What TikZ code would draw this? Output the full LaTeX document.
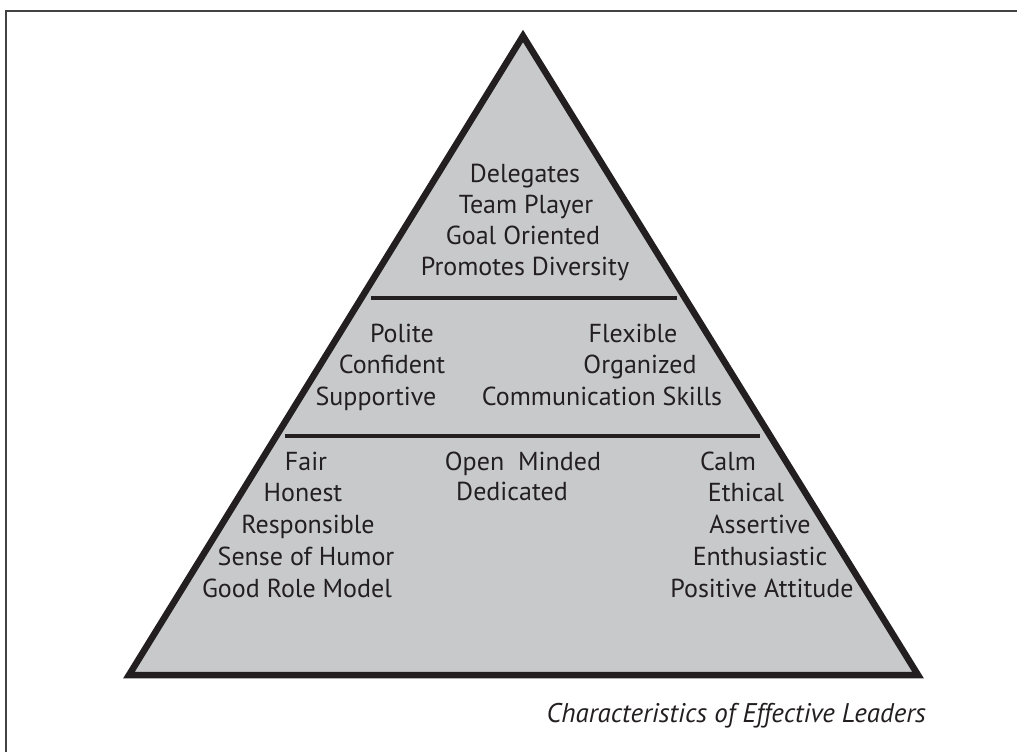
\documentclass[tikz,border=0pt]{standalone}
\usepackage{fontspec}
\setmainfont{PT Sans}
\usepackage{tikz}
\usetikzlibrary{positioning}
\definecolor{ink}{HTML}{231F20}
\definecolor{stone}{HTML}{C8C9CB}
\newcommand{\traitfont}{\fontsize{26}{31}\selectfont}
\tikzset{trait/.style={text=ink, font=\traitfont, inner sep=0pt, anchor=base}}

\begin{document}
\begin{tikzpicture}[x=1pt, y=-1pt]
      \useasboundingbox (0, 0) rectangle (1017, 752);
      % frame, cut at right and bottom
      \draw [ink!85, line width=2.5pt] (6, 760) -- (6, 11) -- (1030, 11);
      % the pyramid
      \filldraw [fill=stone, draw=ink, line width=6.5pt, line join=miter]
            (129, 675) -- (523, 36) -- (918, 675) -- cycle;
      \draw [ink, line width=3.2pt] (371, 298) -- (677, 298)
                                    (285, 436) -- (760, 436);
      % top tier
      \node [trait] (deleg) at (525, 182) {Delegates};
      \node [trait] (team)  at (526, 213) {Team Player};
      \node [trait] (goal)  at (523, 244) {Goal Oriented};
      \node [trait] (divers) at (525, 275) {Promotes Diversity};
      % middle tier
      \node [trait] (polite) at (402, 342) {Polite};
      \node [trait] (confid) at (392, 373) {Confident};
      \node [trait] (suppor) at (376, 405) {Supportive};
      \node [trait] (flex)   at (633, 342) {Flexible};
      \node [trait] (organ)  at (640, 373) {Organized};
      \node [trait] (commun) at (602, 405) {Communication Skills};
      % bottom tier
      \node [trait] (fair)   at (306, 470) {Fair};
      \node [trait] (honest) at (303, 501) {Honest};
      \node [trait] (respon) at (308, 533) {Responsible};
      \node [trait] (humor)  at (306, 565) {Sense of Humor};
      \node [trait] (model)  at (297, 597) {Good Role Model};
      \node [trait] (open)   at (523, 470) {Open\ \ Minded};
      \node [trait] (dedic)  at (512, 500) {Dedicated};
      \node [trait] (calm)   at (728, 470) {Calm};
      \node [trait] (ethic)  at (746, 501) {Ethical};
      \node [trait] (assert) at (760, 533) {Assertive};
      \node [trait] (enthus) at (760, 565) {Enthusiastic};
      \node [trait] (posit)  at (762, 597) {Positive Attitude};
      % caption
      \node [trait, font=\fontsize{27}{31}\selectfont\itshape, anchor=base east] (caption) at (926, 722)
            {Characteristics of Effective Leaders};
\end{tikzpicture}
\end{document}
